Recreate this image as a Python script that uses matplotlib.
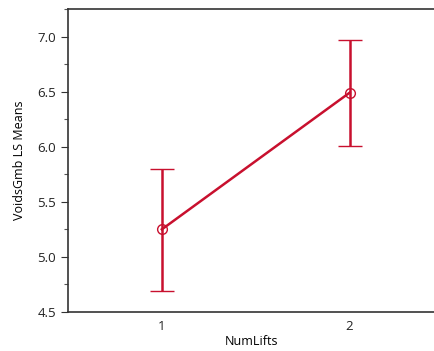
import matplotlib.pyplot as plt
from matplotlib.ticker import MultipleLocator

# LS means with confidence intervals
num_lifts = [1, 2]
means = [5.25, 6.49]
lower = [4.69, 6.01]
upper = [5.80, 6.97]

plt.rcParams['font.family'] = ['Open Sans', 'DejaVu Sans']

fig = plt.figure(figsize=(4.34, 3.51), dpi=100)
ax = fig.add_axes([68 / 434, 1 - 312 / 351, 1 - 68 / 434, (312 - 9) / 351])

red = '#c8102e'
yerr = [[m - lo for m, lo in zip(means, lower)],
        [hi - m for m, hi in zip(means, upper)]]
ax.errorbar(num_lifts, means, yerr=yerr, color=red, lw=1.8,
            marker='o', ms=7, mfc='none', mec=red, mew=1.0,
            capsize=8.5, capthick=1.8, elinewidth=1.8)

ax.set_xlim(0.5, 2.45)
ax.set_ylim(4.5, 7.25)
ax.set_xticks(num_lifts)
ax.yaxis.set_major_locator(MultipleLocator(0.5))
ax.yaxis.set_minor_locator(MultipleLocator(0.25))
ax.yaxis.set_major_formatter(plt.FormatStrFormatter('%.1f'))
ax.tick_params(axis='y', which='major', length=5, width=0.8, labelsize=9.5, colors='#333333', labelcolor='#222222')
ax.tick_params(axis='y', which='minor', length=3, width=0.8, colors='#555555')
ax.tick_params(axis='x', length=0, labelsize=9.5, labelcolor='#222222', pad=6)

for side in ['left', 'bottom', 'top']:
    ax.spines[side].set_color('#333333')
    ax.spines[side].set_linewidth(1.2)
ax.spines['right'].set_visible(False)

ax.set_xlabel('NumLifts', fontsize=9, labelpad=1)
ax.set_ylabel('VoidsGmb LS Means', fontsize=9, labelpad=8)

plt.savefig('out.png', dpi=100, facecolor='white')
